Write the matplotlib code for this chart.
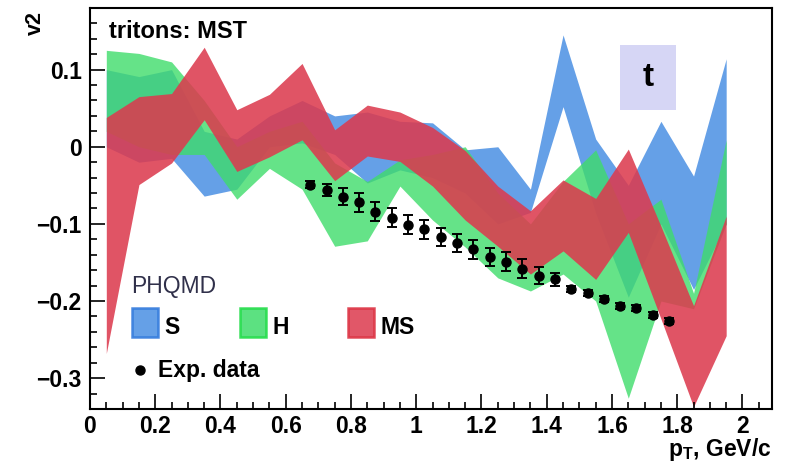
import matplotlib
matplotlib.use("Agg")
import matplotlib.pyplot as plt
from matplotlib.patches import Rectangle

plt.rcParams["font.family"] = ["Liberation Sans", "DejaVu Sans"]
plt.rcParams["mathtext.fontset"] = "custom"
plt.rcParams["mathtext.rm"] = "Liberation Sans"
plt.rcParams["mathtext.bf"] = "Liberation Sans:bold"

# PHQMD bands (bin centres)
pt_model = [0.05, 0.15, 0.25, 0.35, 0.45, 0.55, 0.65, 0.75, 0.85, 0.95,
            1.05, 1.15, 1.25, 1.35, 1.45, 1.55, 1.65, 1.75, 1.85, 1.95]

s_hi = [0.100, 0.091, 0.100, 0.020, 0.010, 0.040, 0.060, 0.040, 0.045, 0.033,
        0.031, -0.004, 0.000, -0.055, 0.145, 0.010, -0.050, 0.033, -0.038, 0.114]
s_lo = [0.000, -0.020, -0.015, -0.064, -0.055, 0.000, 0.005, -0.010, -0.047, -0.030,
        -0.040, -0.060, -0.100, -0.085, 0.052, -0.086, -0.195, -0.100, -0.185, -0.100]

h_hi = [0.125, 0.121, 0.110, 0.060, 0.000, 0.020, 0.033, -0.021, -0.045, -0.017,
        -0.010, 0.000, -0.060, -0.100, -0.045, -0.004, -0.100, -0.068, -0.190, 0.009]
h_lo = [0.020, 0.000, -0.010, -0.010, -0.068, -0.028, -0.055, -0.129, -0.122, -0.051,
        -0.095, -0.130, -0.170, -0.187, -0.165, -0.200, -0.326, -0.200, -0.210, -0.100]

ms_hi = [0.038, 0.065, 0.069, 0.129, 0.048, 0.068, 0.108, 0.022, 0.054, 0.045,
         0.025, -0.005, -0.051, -0.083, -0.043, -0.067, -0.003, -0.103, -0.206, -0.090]
ms_lo = [-0.268, -0.049, -0.021, 0.035, -0.032, -0.013, 0.009, -0.044, -0.012, -0.019,
         -0.051, -0.095, -0.129, -0.165, -0.135, -0.172, -0.111, -0.223, -0.337, -0.245]

# experimental points
pt_exp = [0.675, 0.725, 0.775, 0.825, 0.875, 0.925, 0.975, 1.025, 1.075, 1.125,
          1.175, 1.225, 1.275, 1.325, 1.375, 1.425, 1.475, 1.525, 1.575, 1.625,
          1.675, 1.725, 1.775]
v2_exp = [-0.049, -0.056, -0.065, -0.072, -0.084, -0.092, -0.101, -0.107, -0.117, -0.125,
          -0.133, -0.143, -0.149, -0.158, -0.167, -0.172, -0.184, -0.190, -0.197, -0.206,
          -0.209, -0.218, -0.226]
v2_err = [0.004, 0.008, 0.011, 0.012, 0.012, 0.012, 0.012, 0.012, 0.012, 0.012,
          0.012, 0.012, 0.012, 0.012, 0.011, 0.008, 0.004, 0.004, 0.004, 0.004,
          0.004, 0.004, 0.004]

BLUE = "#4a8fe3"
GREEN = "#3fdc6b"
RED = "#dc3a4e"
FS = 16.5

fig = plt.figure(figsize=(7.86, 4.66), dpi=100)
ax = fig.add_axes([0.1145, 0.1223, 0.8675, 0.8607])

ax.fill_between(pt_model, s_lo, s_hi, color=BLUE, alpha=0.85, lw=0)
ax.fill_between(pt_model, h_lo, h_hi, color=GREEN, alpha=0.8, lw=0)
ax.fill_between(pt_model, ms_lo, ms_hi, color=RED, alpha=0.87, lw=0)
ax.errorbar(pt_exp, v2_exp, yerr=v2_err, fmt="o", color="black", ms=6.5,
            elinewidth=1.4, capsize=3.5, capthick=1.4, zorder=5)

ax.set_xlim(0, 2.09)
ax.set_ylim(-0.339, 0.179)
ax.set_xticks([0, 0.2, 0.4, 0.6, 0.8, 1, 1.2, 1.4, 1.6, 1.8, 2])
ax.set_xticklabels(["0", "0.2", "0.4", "0.6", "0.8", "1", "1.2", "1.4", "1.6", "1.8", "2"])
ax.set_xticks([i * 0.05 for i in range(42)], minor=True)
ax.set_yticks([-0.3, -0.2, -0.1, 0, 0.1])
ax.set_yticklabels(["\u22120.3", "\u22120.2", "\u22120.1", "0", "0.1"])
ax.set_yticks([-0.34 + i * 0.02 for i in range(27)], minor=True)
ax.tick_params(which="both", direction="in", top=False, right=False,
               labelsize=FS, width=1.2)
ax.tick_params(which="major", length=11)
ax.tick_params(axis="x", which="major", pad=4)
ax.tick_params(axis="y", which="major", pad=6)
ax.tick_params(which="minor", length=5)
for lab in ax.get_xticklabels() + ax.get_yticklabels():
    lab.set_fontweight("bold")
for sp in ax.spines.values():
    sp.set_linewidth(1.5)

fig.text(0.045, 0.95, "v2", rotation=90, fontsize=FS - 1, fontweight="bold",
         ha="center", va="center")
fig.text(0.982, 0.021, r"p$_{\mathbf{T}}$, GeV/c", fontsize=FS, fontweight="bold",
         ha="right", va="baseline")

ax.text(0.028, 0.925, "tritons: MST", transform=ax.transAxes, fontsize=FS + 0.5,
        fontweight="bold", ha="left", va="baseline")

# label box "t"
ax.add_patch(Rectangle((0.777, 0.746), 0.082, 0.162, transform=ax.transAxes,
                       facecolor="#d6d6f5", edgecolor="none", zorder=6))
ax.text(0.818, 0.827, "t", transform=ax.transAxes, fontsize=24, fontweight="bold",
        ha="center", va="center", zorder=7)

# legend
ax.text(0.061, 0.288, "PHQMD", transform=ax.transAxes, fontsize=FS,
        color="#30304a", ha="left", va="baseline")
for x0, col, ec, lab in [(0.0615, BLUE, "#2f78dc", "S"),
                         (0.220, GREEN, "#1edc45", "H"),
                         (0.378, RED, "#dc3040", "MS")]:
    ax.add_patch(Rectangle((x0, 0.179), 0.038, 0.072, transform=ax.transAxes,
                           facecolor=col, alpha=0.85, edgecolor=ec, lw=1.8, zorder=6))
    ax.text(x0 + 0.048, 0.186, lab, transform=ax.transAxes, fontsize=FS,
            fontweight="bold", ha="left", va="baseline", zorder=7)
ax.plot([0.073], [0.097], "o", color="black", ms=6.5, transform=ax.transAxes)
ax.text(0.099, 0.079, "Exp. data", transform=ax.transAxes, fontsize=FS,
        fontweight="bold", ha="left", va="baseline")

fig.savefig("out.png", dpi=100)
